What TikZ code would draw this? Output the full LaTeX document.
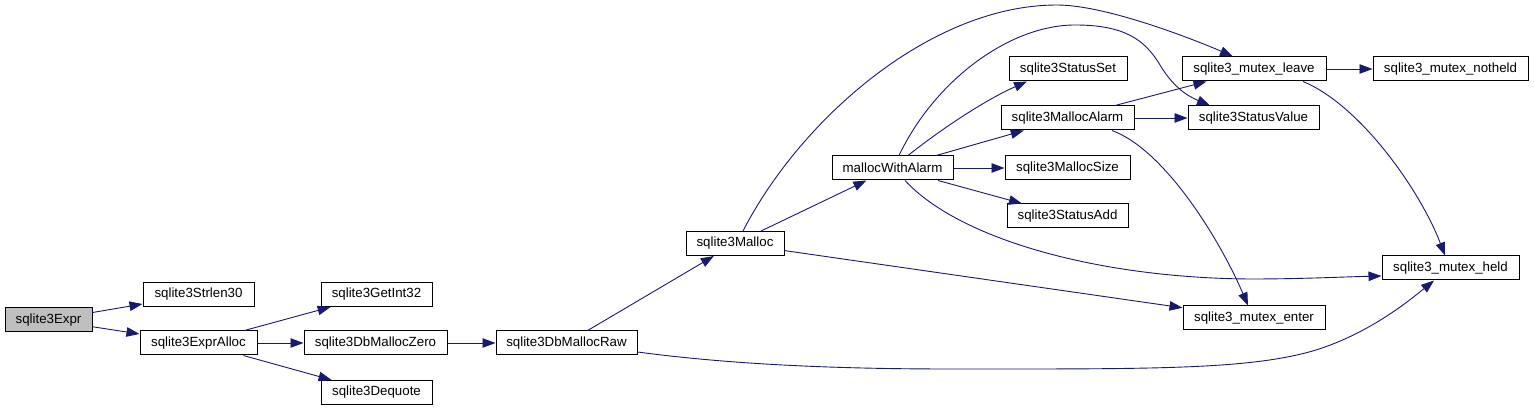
\documentclass[tikz,border=0pt]{standalone}
\usepackage{fontspec}
\setmainfont{Liberation Sans}
\usetikzlibrary{arrows.meta}
\definecolor{edgeblue}{RGB}{25,25,112}
\definecolor{rootgray}{RGB}{191,191,191}
\begin{document}
\begin{tikzpicture}[x=1pt,y=-1pt,
  fn/.style={draw=black,line width=1pt,fill=white,minimum height=24pt,inner sep=0pt,
    font=\fontsize{13.3}{16}\selectfont},
  root/.style={fn,fill=rootgray},
  call/.style={draw=edgeblue,line width=0.9pt,-{Triangle[length=13pt,width=9.5pt]}}]
\useasboundingbox (0,0) rectangle (1534,411);
% nodes
\node[root,minimum width=87pt]  (expr)   at (48.5,320)   {sqlite3Expr};
\node[fn,minimum width=111pt]   (strlen) at (198.5,294.5) {sqlite3Strlen30};
\node[fn,minimum width=117pt]   (ealloc) at (198.5,343)   {sqlite3ExprAlloc};
\node[fn,minimum width=111pt]   (getint) at (376.5,294.5) {sqlite3GetInt32};
\node[fn,minimum width=143pt]   (dbzero) at (375.5,343)   {sqlite3DbMallocZero};
\node[fn,minimum width=111pt]   (dequote) at (376.5,392.5) {sqlite3Dequote};
\node[fn,minimum width=141pt]   (dbraw)  at (566.5,343)   {sqlite3DbMallocRaw};
\node[fn,minimum width=98pt]    (malloc) at (735,243.5)   {sqlite3Malloc};
\node[fn,minimum width=121pt]   (mwa)    at (892.5,168)   {mallocWithAlarm};
\node[fn,minimum width=118pt]   (sset)   at (1068,69)     {sqlite3StatusSet};
\node[fn,minimum width=133pt]   (malarm) at (1067.5,118)  {sqlite3MallocAlarm};
\node[fn,minimum width=125pt]   (msize)  at (1067.5,168)  {sqlite3MallocSize};
\node[fn,minimum width=121pt]   (sadd)   at (1067.5,216)  {sqlite3StatusAdd};
\node[fn,minimum width=144pt]   (leave)  at (1254,69)     {sqlite3\_mutex\_leave};
\node[fn,minimum width=131pt]   (svalue) at (1253.5,118)  {sqlite3StatusValue};
\node[fn,minimum width=155pt]   (notheld) at (1450.5,69)  {sqlite3\_mutex\_notheld};
\node[fn,minimum width=137pt]   (held)   at (1450.5,268)  {sqlite3\_mutex\_held};
\node[fn,minimum width=142pt]   (enter)  at (1254,318)    {sqlite3\_mutex\_enter};
% straight edges
\draw[call] (expr) -- (strlen);
\draw[call] (expr) -- (ealloc);
\draw[call] (ealloc) -- (getint);
\draw[call] (ealloc) -- (dbzero);
\draw[call] (ealloc) -- (dequote);
\draw[call] (dbzero) -- (dbraw);
\draw[call] (dbraw) -- (malloc);
\draw[call] (malloc) -- (mwa);
\draw[call] (malloc) -- (enter);
\draw[call] (mwa) -- (malarm);
\draw[call] (mwa) -- (msize);
\draw[call] (mwa) -- (sadd);
\draw[call] (malarm) -- (leave);
\draw[call] (malarm) -- (svalue);
\draw[call] (leave) -- (notheld);
% curved edges
\draw[call] ([xshift=8pt]malloc.north) .. controls (800,120) and (930,5) .. (1057,5)
  .. controls (1110,5) and (1207,45) .. ([xshift=-21pt]leave.north);
\draw[call] ([xshift=6.5pt]mwa.north) .. controls (935,80) and (1010,25) .. (1075,25)
  .. controls (1125,25) and (1145,40) .. (1160,65)
  .. controls (1172,85) and (1185,95) .. ([xshift=-43.5pt]svalue.north);
\draw[call] ([xshift=15.5pt]mwa.north) .. controls (940,130) and (985,100) .. ([xshift=-41pt]sset.south);
\draw[call] ([xshift=12.5pt]mwa.south) .. controls (960,240) and (1100,278) .. (1250,279)
  .. controls (1300,279) and (1340,277) .. ([yshift=-8pt]held.west);
\draw[call] ([yshift=-9pt]dbraw.east) .. controls (720,363) and (820,369) .. (950,369)
  .. controls (1150,369) and (1250,370) .. (1316,350)
  .. controls (1370,333) and (1410,300) .. ([xshift=-16.5pt]held.south);
\draw[call] ([xshift=44.5pt]malarm.south) .. controls (1165,150) and (1220,240) .. ([xshift=-6pt]enter.north);
\draw[call] ([xshift=49pt]leave.south) .. controls (1360,105) and (1420,190) .. ([xshift=-5.5pt]held.north);
\end{tikzpicture}
\end{document}
